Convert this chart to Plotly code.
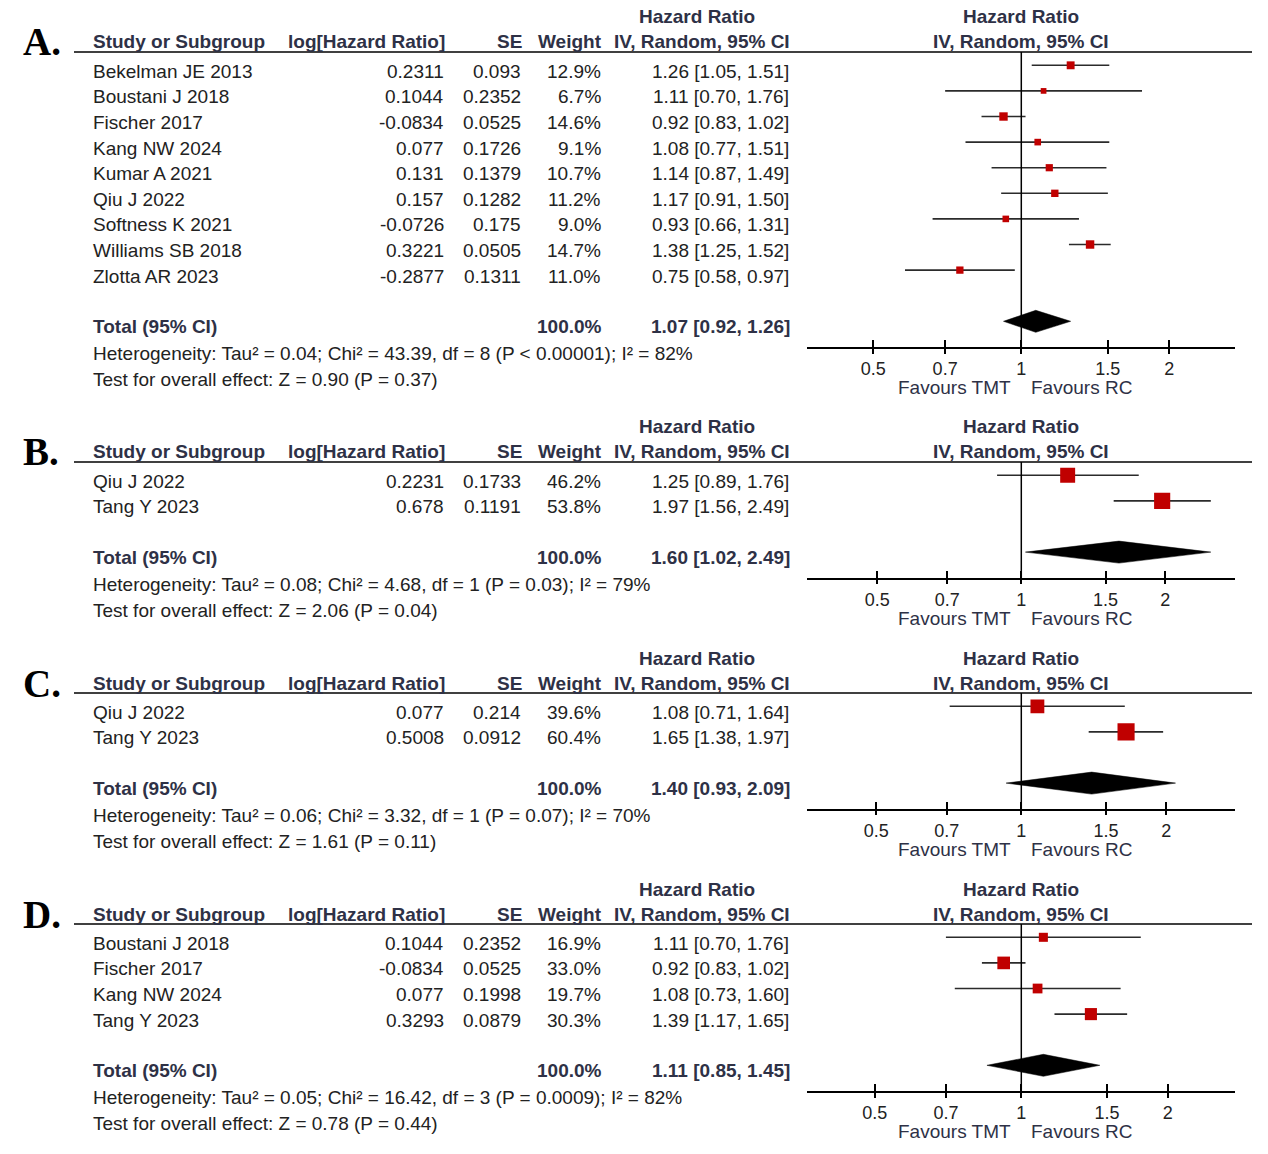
import math
import plotly.graph_objects as go

# ---------------- data ----------------
studies_a = ["Bekelman JE 2013", "Boustani J 2018", "Fischer 2017", "Kang NW 2024",
             "Kumar A 2021", "Qiu J 2022", "Softness K 2021", "Williams SB 2018", "Zlotta AR 2023"]
loghr_a = [0.2311, 0.1044, -0.0834, 0.077, 0.131, 0.157, -0.0726, 0.3221, -0.2877]
se_a = [0.093, 0.2352, 0.0525, 0.1726, 0.1379, 0.1282, 0.175, 0.0505, 0.1311]
weight_a = [12.9, 6.7, 14.6, 9.1, 10.7, 11.2, 9.0, 14.7, 11.0]
hr_a = [1.26, 1.11, 0.92, 1.08, 1.14, 1.17, 0.93, 1.38, 0.75]
lo_a = [1.05, 0.70, 0.83, 0.77, 0.87, 0.91, 0.66, 1.25, 0.58]
hi_a = [1.51, 1.76, 1.02, 1.51, 1.49, 1.50, 1.31, 1.52, 0.97]
total_a = [1.07, 0.92, 1.26]
het_a = "Heterogeneity: Tau² = 0.04; Chi² = 43.39, df = 8 (P < 0.00001); I² = 82%"
test_a = "Test for overall effect: Z = 0.90 (P = 0.37)"

studies_b = ["Qiu J 2022", "Tang Y 2023"]
loghr_b = [0.2231, 0.678]
se_b = [0.1733, 0.1191]
weight_b = [46.2, 53.8]
hr_b = [1.25, 1.97]
lo_b = [0.89, 1.56]
hi_b = [1.76, 2.49]
total_b = [1.60, 1.02, 2.49]
het_b = "Heterogeneity: Tau² = 0.08; Chi² = 4.68, df = 1 (P = 0.03); I² = 79%"
test_b = "Test for overall effect: Z = 2.06 (P = 0.04)"

studies_c = ["Qiu J 2022", "Tang Y 2023"]
loghr_c = [0.077, 0.5008]
se_c = [0.214, 0.0912]
weight_c = [39.6, 60.4]
hr_c = [1.08, 1.65]
lo_c = [0.71, 1.38]
hi_c = [1.64, 1.97]
total_c = [1.40, 0.93, 2.09]
het_c = "Heterogeneity: Tau² = 0.06; Chi² = 3.32, df = 1 (P = 0.07); I² = 70%"
test_c = "Test for overall effect: Z = 1.61 (P = 0.11)"

studies_d = ["Boustani J 2018", "Fischer 2017", "Kang NW 2024", "Tang Y 2023"]
loghr_d = [0.1044, -0.0834, 0.077, 0.3293]
se_d = [0.2352, 0.0525, 0.1998, 0.0879]
weight_d = [16.9, 33.0, 19.7, 30.3]
hr_d = [1.11, 0.92, 1.08, 1.39]
lo_d = [0.70, 0.83, 0.73, 1.17]
hi_d = [1.76, 1.02, 1.60, 1.65]
total_d = [1.11, 0.85, 1.45]
het_d = "Heterogeneity: Tau² = 0.05; Chi² = 16.42, df = 3 (P = 0.0009); I² = 82%"
test_d = "Test for overall effect: Z = 0.78 (P = 0.44)"

total_weights = [100.0, 100.0, 100.0, 100.0]
letters = ["A.", "B.", "C.", "D."]
tick_vals = [0.5, 0.7, 1, 1.5, 2]
tick_text = ["0.5", "0.7", "1", "1.5", "2"]

panels = [
    (studies_a, loghr_a, se_a, weight_a, hr_a, lo_a, hi_a, total_a, het_a, test_a),
    (studies_b, loghr_b, se_b, weight_b, hr_b, lo_b, hi_b, total_b, het_b, test_b),
    (studies_c, loghr_c, se_c, weight_c, hr_c, lo_c, hi_c, total_c, het_c, test_c),
    (studies_d, loghr_d, se_d, weight_d, hr_d, lo_d, hi_d, total_d, het_d, test_d),
]

# ---------------- layout geometry (page pixels) ----------------
W, H = 1268, 1154
ROW = 25.6
tops = [52, 462, 693, 924]
px_per_doubling = [148, 144, 145, 146.5]
ax_left, ax_right, ax_one = 807, 1235, 1021.3

FONT = "Liberation Sans"
TXT = "#222222"
HEAD = "#2E3146"
RED = "#C00000"
FS = 19


def px(x):
    return x / W


def py(y):
    return 1 - y / H


fig = go.Figure()
annotations = []
shapes = []


def note(text, x, yref, y, yshift=0, anchor="left", color=TXT, size=FS, xref="paper",
         family=FONT, xshift=0):
    annotations.append(dict(
        text=text, x=px(x) if xref == "paper" else x, xref=xref, y=y, yref=yref,
        yshift=yshift, xshift=xshift, xanchor=anchor, yanchor="middle", showarrow=False,
        font=dict(family=family, size=size, color=color)))


for i, (studies, loghr, se, weight, hr, lo, hi, total, het, test) in enumerate(panels):
    n = len(studies)
    k = "" if i == 0 else str(i + 1)
    xa, ya = "x" + k, "y" + k
    tw = str(i + 5)
    rows = list(range(n))
    total_row = n + 1

    # CI whiskers
    cx, cy = [], []
    for r, a, b in zip(rows, lo, hi):
        cx += [a, b, None]
        cy += [r, r, None]
    fig.add_trace(go.Scatter(x=cx, y=cy, mode="lines", xaxis=xa, yaxis=ya,
                             line=dict(color="#2b2b2b", width=1.6), hoverinfo="skip"))
    # weighted squares
    fig.add_trace(go.Scatter(x=hr, y=rows, mode="markers", xaxis=xa, yaxis=ya,
                             marker=dict(symbol="square", color=RED, opacity=1,
                                         size=[2.2 * math.sqrt(w) for w in weight],
                                         line=dict(width=0))))
    # pooled diamond
    est, dlo, dhi = total
    h = 0.43
    fig.add_trace(go.Scatter(x=[dlo, est, dhi, est, dlo],
                             y=[total_row, total_row - h, total_row, total_row + h, total_row],
                             mode="lines", fill="toself", fillcolor="black",
                             line=dict(color="black", width=0.5), xaxis=xa, yaxis=ya))
    # invisible trace so the twin tick axis is drawn
    fig.add_trace(go.Scatter(x=[1], y=[0], mode="markers", xaxis="x" + tw, yaxis=ya,
                             marker=dict(opacity=0), hoverinfo="skip"))

    s = px_per_doubling[i] / math.log10(2)
    rng = [(ax_left - ax_one) / s, (ax_right - ax_one) / s]
    top = tops[i]
    bottom = top + (n + 2.52) * ROW
    fig.layout["xaxis" + k] = dict(
        type="log", range=rng, domain=[px(ax_left), px(ax_right)], anchor=ya, showline=True,
        linecolor="black", linewidth=1.5, ticks="outside", ticklen=5, tickwidth=1.5,
        tickcolor="black", tickvals=tick_vals, ticktext=tick_text, showgrid=False,
        zeroline=False, tickfont=dict(family=FONT, size=18, color=TXT), fixedrange=True)
    fig.layout["xaxis" + tw] = dict(
        type="log", range=rng, overlaying=xa, anchor=ya, ticks="inside", ticklen=7,
        tickwidth=1.5, tickcolor="black", tickvals=tick_vals, showticklabels=False,
        showgrid=False, zeroline=False, showline=False, fixedrange=True)
    fig.layout["yaxis" + k] = dict(
        domain=[py(bottom), py(top)], range=[n + 2, -0.52], visible=False,
        fixedrange=True)

    dom = ya + " domain"
    # header rule and line of no effect
    shapes.append(dict(type="line", xref="paper", x0=px(74), x1=px(1252),
                       yref=dom, y0=1, y1=1, line=dict(color="black", width=1.5)))
    shapes.append(dict(type="line", xref=xa, x0=1, x1=1, yref=dom, y0=0, y1=1,
                       line=dict(color="black", width=1.5)))

    # panel letter
    note("<b>" + letters[i] + "</b>", 21, dom, 1, 10, "left", "black", 39,
         family="Liberation Serif")
    # column headers
    note("<b>Study or Subgroup</b>", 91, dom, 1, 10, "left", HEAD)
    note("<b>log[Hazard Ratio]</b>", 447, dom, 1, 10, "right", HEAD)
    note("<b>SE</b>", 524, dom, 1, 10, "right", HEAD)
    note("<b>Weight</b>", 604, dom, 1, 10, "right", HEAD)
    note("<b>IV, Random, 95% CI</b>", 792, dom, 1, 10, "right", HEAD)
    note("<b>Hazard Ratio</b>", 697, dom, 1, 35, "center", HEAD)
    note("<b>IV, Random, 95% CI</b>", 0, dom, 1, 10, "center", HEAD, xref=xa)
    note("<b>Hazard Ratio</b>", 0, dom, 1, 35, "center", HEAD, xref=xa)

    # study rows
    for r, name, lg, e, w, v, a, b in zip(rows, studies, loghr, se, weight, hr, lo, hi):
        note(name, 91, ya, r, -6, "left")
        note(str(lg), 446, ya, r, -6, "right")
        note(str(e), 523, ya, r, -6, "right")
        note(f"{w:.1f}%", 603, ya, r, -6, "right")
        note(f"{v:.2f} [{a:.2f}, {b:.2f}]", 791, ya, r, -6, "right")

    # totals
    note("<b>Total (95% CI)</b>", 91, ya, total_row, -5, "left", HEAD)
    note(f"<b>{total_weights[i]:.1f}%</b>", 604, ya, total_row, -5, "right", HEAD)
    note(f"<b>{est:.2f} [{dlo:.2f}, {dhi:.2f}]</b>", 792, ya, total_row, -5, "right", HEAD)
    note(het, 91, ya, total_row, -32, "left")
    note(test, 91, ya, total_row, -58, "left")

    # favours labels under the axis (annotation x on a log axis is log10 of the value)
    note("Favours TMT", 0, dom, 0, -41, "right", HEAD, xref=xa, xshift=-8)
    note("Favours RC", 0, dom, 0, -41, "left", HEAD, xref=xa, xshift=8)

fig.update_layout(
    width=W, height=H, margin=dict(l=0, r=0, t=0, b=0),
    paper_bgcolor="white", plot_bgcolor="rgba(0,0,0,0)",
    showlegend=False, annotations=annotations, shapes=shapes,
    font=dict(family=FONT, color=TXT),
)

# drop the default page margin so the figure fills the window exactly
fig.write_html("out.html", config={"displayModeBar": False},
               post_script="document.body.style.margin = '0px';")
